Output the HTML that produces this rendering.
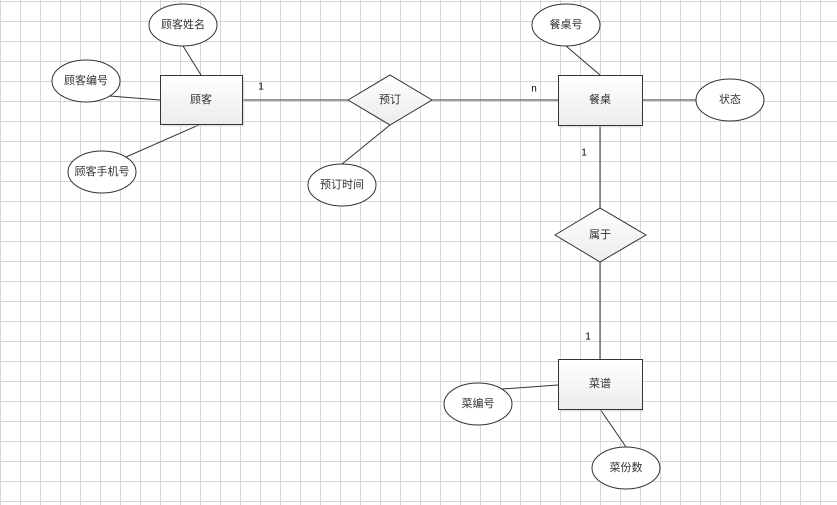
<!DOCTYPE html>
<html><head><meta charset="utf-8"><style>
html,body{margin:0;padding:0;background:#fff;}
svg{display:block;}
text{font-family:"Liberation Sans","Noto Sans CJK SC",sans-serif;font-size:11px;fill:#333;text-anchor:middle;dominant-baseline:central;}
.n{font-size:10px;fill:#000;}
</style></head><body>
<svg width="837" height="505" xmlns="http://www.w3.org/2000/svg">
<defs>
<pattern id="g" width="20" height="20" patternUnits="userSpaceOnUse" x="0" y="1">
<path d="M0.5 0V20M0 0.5H20" stroke="#d6d6d6" stroke-width="1" fill="none"/>
</pattern>
<linearGradient id="gr" x1="0" y1="0" x2="0" y2="1"><stop offset="0" stop-color="#fff"/><stop offset="1" stop-color="#ececec"/></linearGradient>
</defs>
<rect width="837" height="505" fill="url(#g)"/>
<g stroke="#333" stroke-width="1" fill="none">
<line x1="183" y1="46" x2="201" y2="75"/>
<line x1="110" y1="96" x2="160" y2="100"/>
<line x1="126" y1="157" x2="201" y2="124"/>
<line x1="242" y1="100" x2="348" y2="100"/>
<line x1="432" y1="100" x2="558" y2="100"/>
<line x1="390" y1="125" x2="342" y2="164"/>
<line x1="566" y1="46" x2="600" y2="75"/>
<line x1="643" y1="100" x2="696" y2="100"/>
<line x1="600" y1="125" x2="600" y2="208"/>
<line x1="600" y1="262" x2="600" y2="359"/>
<line x1="502" y1="389" x2="558" y2="385"/>
<line x1="600" y1="409" x2="626" y2="447"/>
</g>
<g stroke="#333" stroke-width="1" fill="url(#gr)">
<rect x="162.5" y="77.5" width="82" height="49" fill="#ccc" stroke="none" opacity="0.5"/>
<rect x="160.5" y="75.5" width="82" height="49"/>
<rect x="560.5" y="77.5" width="82" height="50" fill="#ccc" stroke="none" opacity="0.5"/>
<rect x="558.5" y="75.5" width="84" height="50"/>
<rect x="560.5" y="361.5" width="82" height="50" fill="#ccc" stroke="none" opacity="0.5"/>
<rect x="558.5" y="359.5" width="84" height="50"/>
<polygon points="348,100 390,75 432,100 390,125"/>
<polygon points="555,235 600,208 646,235 600,262"/>
</g>
<g stroke="#333" stroke-width="1" fill="#fff">
<ellipse cx="183" cy="25" rx="34" ry="21"/>
<ellipse cx="86" cy="81" rx="34" ry="21"/>
<ellipse cx="102" cy="172" rx="34" ry="21"/>
<ellipse cx="342" cy="185" rx="34" ry="21"/>
<ellipse cx="566" cy="25" rx="34" ry="21"/>
<ellipse cx="730" cy="100" rx="34" ry="21"/>
<ellipse cx="478" cy="404" rx="34" ry="21"/>
<ellipse cx="626" cy="468" rx="34" ry="21"/>
</g>
<text x="183" y="25">顾客姓名</text>
<text x="86" y="81">顾客编号</text>
<text x="102" y="172">顾客手机号</text>
<text x="201" y="100">顾客</text>
<text x="390" y="100">预订</text>
<text x="342" y="185">预订时间</text>
<text x="566" y="25">餐桌号</text>
<text x="600" y="100">餐桌</text>
<text x="730" y="100">状态</text>
<text x="600" y="235">属于</text>
<text x="600" y="384">菜谱</text>
<text x="478" y="404">菜编号</text>
<text x="626" y="468">菜份数</text>
<text class="n" x="261" y="87">1</text>
<text class="n" x="534" y="89">n</text>
<text class="n" x="584" y="153">1</text>
<text class="n" x="588" y="337">1</text>
</svg>
</body></html>
